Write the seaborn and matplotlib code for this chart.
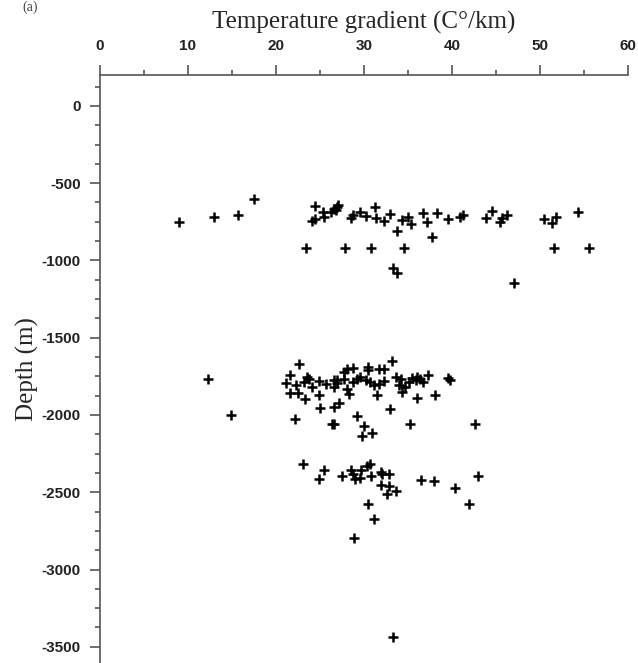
import matplotlib
matplotlib.use("Agg")
import matplotlib.pyplot as plt
import seaborn as sns
import numpy as np
import pandas as pd
from matplotlib.ticker import MultipleLocator

# Temperature gradient (C/km) and depth (m)
upper_grad = [9.0, 12.9, 15.7, 17.5, 23.4, 24.4, 24.1, 24.4, 25.3, 25.4, 26.2, 26.6, 26.9,
              26.8, 27.0, 28.5, 28.8, 29.5, 30.2, 31.2, 31.4, 32.3, 32.9, 33.7, 34.3, 35.0,
              35.3, 36.7, 37.2, 38.3, 37.7, 39.6, 40.9, 41.2, 43.9, 27.8, 30.8, 34.6, 33.3,
              33.8, 44.6, 45.5, 45.7, 46.2, 50.5, 51.4, 51.8, 54.3, 51.6, 55.6, 47.1]
upper_depth = [-750, -717, -706, -603, -918, -646, -745, -734, -689, -717, -689, -670, -652,
               -674, -642, -728, -706, -689, -713, -652, -728, -745, -700, -808, -739, -721,
               -767, -691, -750, -691, -847, -734, -721, -706, -728, -918, -922, -922, -1052,
               -1080, -678, -750, -728, -706, -734, -760, -717, -685, -918, -922, -1149]

middle_grad = [12.3, 14.9, 22.6, 21.6, 21.1, 21.6, 22.3, 22.5, 23.2, 23.5, 23.8, 23.3, 24.1,
               24.9, 24.9, 25.0, 25.7, 22.2, 26.6, 26.6, 26.9, 26.6, 26.4, 26.6,
               26.9, 27.7, 28.1, 28.8, 27.7, 28.1, 28.3, 28.8, 29.2, 29.6, 30.4, 30.4, 30.2,
               30.7, 31.1, 31.7, 31.5, 31.7, 32.3, 32.3, 33.2, 33.6, 34.2, 34.0, 34.3, 34.7,
               35.1, 35.5, 35.9, 36.0, 36.4, 36.7, 37.3, 36.0, 38.1, 39.5, 39.8, 27.2, 29.2,
               33.0, 30.0, 30.9, 29.8, 35.2, 42.6]
middle_depth = [-1765, -2003, -1668, -1739, -1791, -1856, -1804, -1856, -1787, -1754, -1765,
                -1899, -1819, -1782, -1868, -1955, -1797, -2028, -1776, -1819, -1791, -1949,
                -2061, -2061, -1776, -1722, -1700, -1696, -1765, -1830, -1862, -1787, -1765,
                -1754, -1690, -1711, -1776, -1787, -1808, -1797, -1868, -1700, -1700, -1782,
                -1652, -1754, -1765, -1808, -1851, -1819, -1787, -1760, -1776, -1754, -1765,
                -1787, -1739, -1890, -1868, -1760, -1776, -1925, -2007, -1964, -2072, -2115,
                -2137, -2056, -2061]

lower_grad = [23.1, 25.4, 24.9, 27.5, 28.5, 28.8, 29.0, 29.6, 29.7, 30.3, 30.7, 30.8, 31.9,
              32.1, 32.8, 31.9, 32.8, 32.6, 33.6, 36.5, 37.9, 40.3, 42.9, 41.9, 30.4, 31.1,
              28.9, 33.3]
lower_depth = [-2320, -2355, -2413, -2398, -2359, -2381, -2413, -2407, -2355, -2333, -2316,
               -2392, -2370, -2381, -2381, -2456, -2461, -2510, -2489, -2420, -2428, -2471,
               -2396, -2579, -2579, -2672, -2795, -3439]

df = pd.DataFrame({
    "gradient": upper_grad + middle_grad + lower_grad,
    "depth": upper_depth + middle_depth + lower_depth,
})

sns.set_style("white")
plt.rcParams["axes.unicode_minus"] = False
plt.rcParams["font.family"] = ["Liberation Sans", "DejaVu Sans"]

fig = plt.figure(figsize=(6.38, 6.63), dpi=100)
ax = fig.add_axes([100 / 638, 0.0, 528 / 638, 1 - 75 / 663])

sns.scatterplot(data=df, x="gradient", y="depth", ax=ax, marker="+", color="black",
                s=45, linewidth=1.8)

ax.set_xlim(0, 60)
ax.set_ylim(-3605, 200)

# axis on top, only left and top spines
ax.xaxis.tick_top()
ax.xaxis.set_label_position("top")
for side in ["right", "bottom"]:
    ax.spines[side].set_visible(False)
for side in ["left", "top"]:
    ax.spines[side].set_color("#555555")
    ax.spines[side].set_linewidth(1.2)

ax.xaxis.set_major_locator(MultipleLocator(10))
ax.xaxis.set_minor_locator(MultipleLocator(5))
ax.yaxis.set_major_locator(MultipleLocator(500))
ax.yaxis.set_minor_locator(MultipleLocator(125))
ax.set_yticks(np.arange(-3500, 1, 500))

ax.tick_params(axis="both", which="major", length=7, width=1.2, color="#555555",
               labelsize=11, labelcolor="#222222")
ax.tick_params(axis="both", which="minor", length=3.5, width=1.2, color="#555555")
ax.tick_params(axis="x", which="both", top=True, bottom=False, pad=9)
ax.tick_params(axis="y", which="both", left=True, right=False, pad=7)
for lab in ax.get_xticklabels() + ax.get_yticklabels():
    lab.set_fontweight("bold")

ax.set_xlabel("Temperature gradient (C°/km)", family="Liberation Serif", fontsize=18,
              labelpad=7)
ax.set_ylabel("Depth (m)", family="Liberation Serif", fontsize=18, labelpad=2)

# panel letter, mostly cropped away in the original
fig.text(0.035, 0.999, "(a)", family="Liberation Serif", fontsize=10,
         ha="left", va="top", color="#444444")

fig.savefig("out.png", dpi=100)
